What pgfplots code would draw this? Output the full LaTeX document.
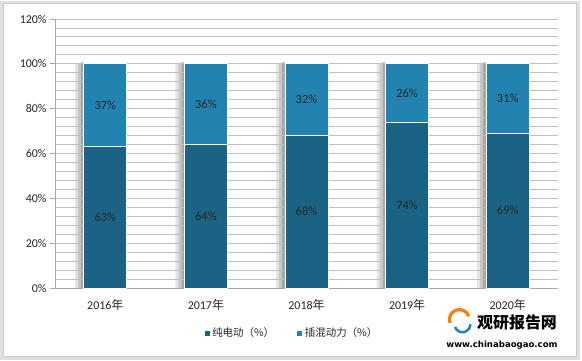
\documentclass[border=0pt]{standalone}
\usepackage{pgfplots}
\pgfplotsset{compat=1.18}
\usepackage{pgfplotstable}
\usepackage{fontspec}
\setmainfont{Carlito}
\newfontfamily\cjk{Noto Sans CJK SC}
\newfontfamily\dejavu{DejaVu Sans}
\definecolor{darkbar}{HTML}{1B6385}
\definecolor{lightbar}{HTML}{2283B1}
\definecolor{gridc}{HTML}{BFBFBF}
\definecolor{axisc}{HTML}{A6A6A6}
\definecolor{txt}{HTML}{262626}
\pgfplotstableread{
x dark light
0 63 37
1 64 36
2 68 32
3 74 26
4 69 31
}\datatable
\pgfplotsset{common/.style={
  scale only axis, width=503bp, height=269bp,
  ymin=0, ymax=120, xmin=-0.5, xmax=4.5}}
\begin{document}
\begin{tikzpicture}[x=1bp,y=1bp]
% bar shadows
\begin{axis}[at={(0,0)}, anchor=south west, common, hide axis]
\addplot[ybar, bar width=3bp, bar shift=-29bp, draw=none, fill=black!10]
  table[x=x, y expr=\thisrow{dark}+\thisrow{light}] {\datatable};
\addplot[ybar, bar width=3bp, bar shift=-26bp, draw=none, fill=black!22]
  table[x=x, y expr=\thisrow{dark}+\thisrow{light}+0.3] {\datatable};
\addplot[ybar, bar width=3bp, bar shift=-23bp, draw=none, fill=black!35]
  table[x=x, y expr=\thisrow{dark}+\thisrow{light}+0.6] {\datatable};
\end{axis}
\begin{axis}[name=main, at={(0,0)}, anchor=south west, common,
  ybar stacked, bar width=43bp,
  ytick={0,20,...,120}, minor y tick num=4,
  ymajorgrids, yminorgrids,
  major grid style={gridc, line width=0.9bp},
  minor grid style={gridc, line width=0.9bp},
  minor tick length=0pt,
  yticklabel={\pgfmathprintnumber[assume math mode=true]{\tick}\%},
  xtick={0,...,4},
  xticklabels={2016{\cjk 年},2017{\cjk 年},2018{\cjk 年},2019{\cjk 年},2020{\cjk 年}},
  major x tick style={draw=none},
  extra x ticks={-0.5,0.5,1.5,2.5,3.5,4.5},
  extra x tick labels={},
  extra x tick style={major tick length=5bp, tick style={axisc, line width=0.9bp}},
  tick align=outside,
  major tick length=5bp,
  ytick style={axisc, line width=0.9bp},
  axis x line*=bottom, axis y line*=left,
  axis line style={axisc, line width=0.9bp, -},
  tick label style={font=\fontsize{12}{14}\selectfont, text=txt},
  xticklabel style={yshift=-3bp},
  legend style={at={(0.47,-0.167)}, anchor=center, draw=none, fill=none,
     legend columns=2, font=\cjk\fontsize{10.5}{12}\selectfont, text=txt,
     /tikz/every even column/.append style={column sep=20bp}},
  legend image code/.code={\fill[#1] (0bp,-3bp) rectangle (6bp,3bp);},
]
\addplot[fill=darkbar, draw=white, line width=0.7bp]
  table[x=x, y=dark] {\datatable};
\addplot[fill=lightbar, draw=white, line width=0.7bp]
  table[x=x, y=light] {\datatable};
\legend{纯电动（\%）,插混动力（\%）}
\end{axis}
% value labels
\begin{axis}[at={(main.south west)}, anchor=south west, common,
  hide axis, point meta=explicit,
  nodes near coords={\pgfmathprintnumber[assume math mode=true]{\pgfplotspointmeta}\%},
  every node near coord/.append style={anchor=center, font=\fontsize{12.5}{14}\selectfont, text=txt}]
\addplot[only marks, mark=none]
  table[x=x, y expr=\thisrow{dark}/2, meta=dark] {\datatable};
\addplot[only marks, mark=none]
  table[x=x, y expr=\thisrow{dark}+\thisrow{light}/2, meta=light] {\datatable};
\end{axis}
\begin{scope}[shift={(-55,-72)}]
\draw[black!12, line width=3bp] (2,2) rectangle (578,358);
\draw[black!20, line width=1bp] (3.5,3.5) rectangle (576.5,356.5);
% logo
\draw[orange, line width=3.2bp] (450,37) arc (200:20:10);
\draw[lightbar, line width=2.5bp] (455,33) arc (200:360:8);
\node[anchor=west, font=\cjk\bfseries\fontsize{16}{17}\selectfont, inner sep=0pt] at (477,38) {观研报告网};
\node[font=\dejavu\bfseries\fontsize{8.6}{10}\selectfont, inner sep=0pt] at (502,15) {www.chinabaogao.com};
\path (0,0) (582,360);
\end{scope}
\end{tikzpicture}
\end{document}
